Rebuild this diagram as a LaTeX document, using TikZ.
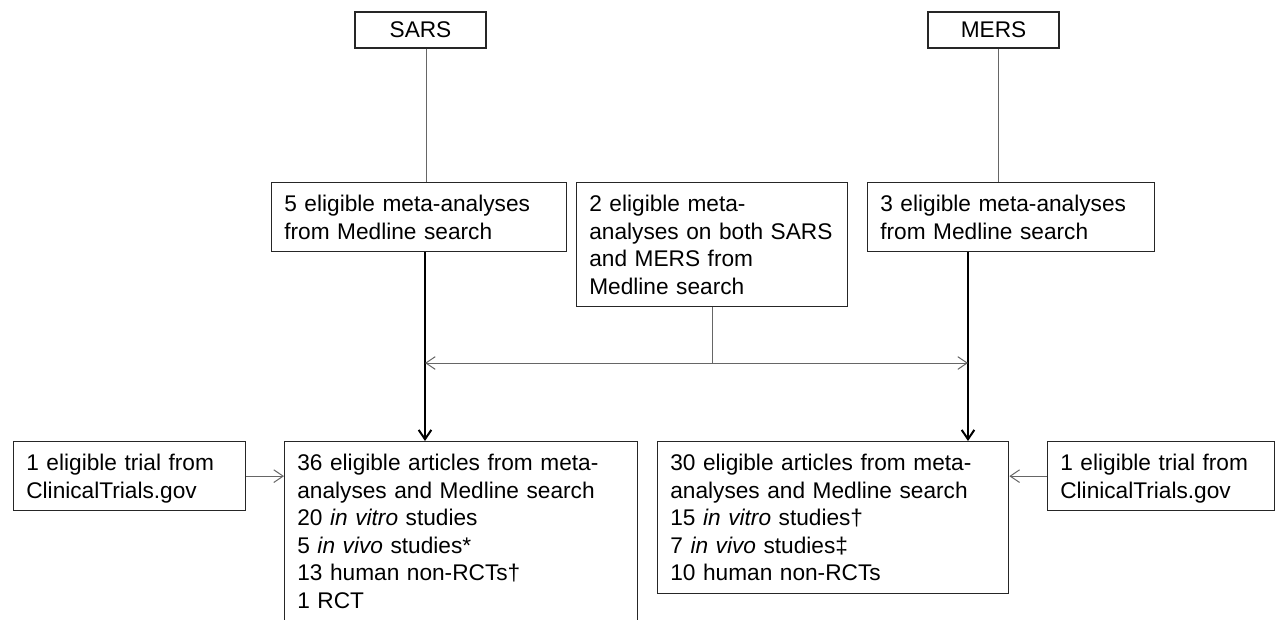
\documentclass[tikz,border=0pt]{standalone}
\usepackage{fontspec}
\setmainfont{Liberation Sans}
\usetikzlibrary{arrows.meta}
\newcommand{\boxFont}{\fontsize{17pt}{20.7pt}\selectfont}
\newcommand{\capHeight}{12.2pt}
\newcommand{\tipSize}{length=7pt,width=9.5pt}

\begin{document}
\begin{tikzpicture}[x=0.75pt, y=-0.75pt,
  box/.style={draw=black!85, line width=1pt, anchor=north west, align=left, font=\boxFont,
    inner xsep=9.5pt, inner ysep=9.4pt, text height=\capHeight},
  virus/.style={draw=black!85, line width=1pt, font=\boxFont, inner sep=0pt,
    minimum width=98.25pt, minimum height=27pt},
  thinline/.style={draw=black!60, line width=0.75pt},
  thinarrow/.style={thinline, -{Straight Barb[\tipSize]}},
  thinboth/.style={thinline, {Straight Barb[\tipSize]}-{Straight Barb[\tipSize]}},
  thickarrow/.style={draw=black, line width=1.5pt, -{Straight Barb[\tipSize]}}]
\useasboundingbox (0,0) rectangle (1275,619);
\clip (0,0) rectangle (1275,619);

\node[virus] (sars) at (420.5,30) {SARS};
\node[virus] (mers) at (993.5,30) {MERS};

\node[box, text width=202.25pt, text depth=20.7pt] (five) at (271,182)
  {5 eligible meta-analyses\\from Medline search};
\node[box, text width=184.25pt, text depth=62.1pt] (two) at (576,182)
  {2 eligible meta-\\analyses on both SARS\\and MERS from\\Medline search};
\node[box, text width=196.25pt, text depth=20.7pt] (three) at (867,182)
  {3 eligible meta-analyses\\from Medline search};

\node[box, text width=155pt, text depth=20.7pt] (trialleft) at (13,441)
  {1 eligible trial from\\ClinicalTrials.gov};
\node[box, text width=245.75pt, text depth=103.5pt] (sarsbox) at (284,441)
  {36 eligible articles from meta-\\analyses and Medline search\\20 \textit{in vitro} studies\\5 \textit{in vivo} studies*\\13 human non-RCTs†\\1 RCT};
\node[box, text width=244.25pt, text depth=82.8pt] (mersbox) at (657,441)
  {30 eligible articles from meta-\\analyses and Medline search\\15 \textit{in vitro} studies†\\7 \textit{in vivo} studies‡\\10 human non-RCTs};
\node[box, text width=151.25pt, text depth=20.7pt] (trialright) at (1047,441)
  {1 eligible trial from\\ClinicalTrials.gov};

\coordinate (sarsline) at (426,0);
\coordinate (mersline) at (998,0);
\coordinate (sarsarrow) at (425,0);
\coordinate (mersarrow) at (968,0);
\coordinate (twoline) at (712,0);
\coordinate (bothline) at (0,363);

\draw[thinline] (sars.south -| sarsline) -- (five.north -| sarsline);
\draw[thinline] (mers.south -| mersline) -- (three.north -| mersline);
\draw[thickarrow] (five.south -| sarsarrow) -- (sarsbox.north -| sarsarrow);
\draw[thickarrow] (three.south -| mersarrow) -- (mersbox.north -| mersarrow);
\draw[thinline] (two.south -| twoline) -- (bothline -| twoline);
\draw[thinboth] (bothline -| sarsarrow) -- (bothline -| mersarrow);
\draw[thinarrow] (trialleft.east) -- (sarsbox.west |- trialleft.east);
\draw[thinarrow] (trialright.west) -- (mersbox.east |- trialright.west);
\end{tikzpicture}
\end{document}
